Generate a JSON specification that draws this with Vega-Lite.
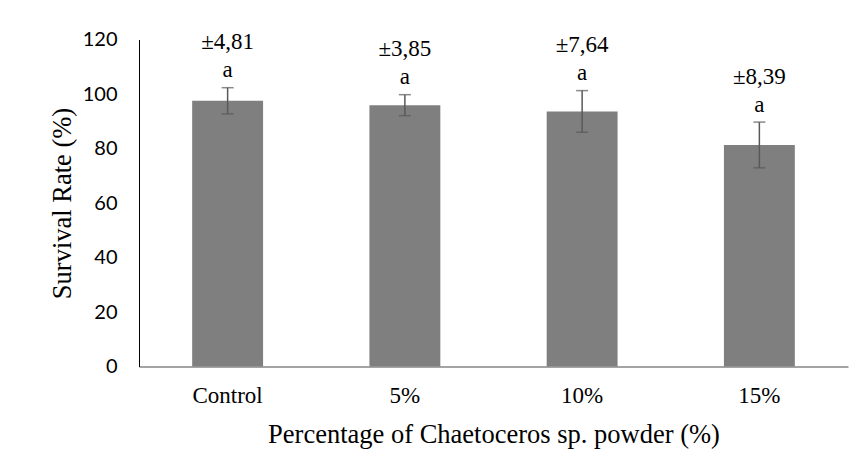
{
  "$schema": "https://vega.github.io/schema/vega-lite/v6.json",
  "width": 709,
  "height": 327,
  "autosize": {"type": "none"},
  "padding": {"left": 139, "top": 39.5, "right": 16, "bottom": 109.5},
  "background": "white",
  "config": {
    "view": {"stroke": null},
    "axis": {"grid": false, "ticks": false, "labelColor": "#000000", "titleColor": "#000000", "titleFontWeight": "normal"}
  },
  "data": {
    "values": [
      {"group": "Control", "mean": 97.5, "sd": 4.81, "lo": 92.69, "hi": 102.31, "sdLabel": "±4,81", "letter": "a"},
      {"group": "5%", "mean": 95.9, "sd": 3.85, "lo": 92.05, "hi": 99.75, "sdLabel": "±3,85", "letter": "a"},
      {"group": "10%", "mean": 93.6, "sd": 7.64, "lo": 85.96, "hi": 101.24, "sdLabel": "±7,64", "letter": "a"},
      {"group": "15%", "mean": 81.3, "sd": 8.39, "lo": 72.91, "hi": 89.69, "sdLabel": "±8,39", "letter": "a"}
    ]
  },
  "encoding": {
    "x": {
      "field": "group",
      "type": "nominal",
      "sort": null,
      "scale": {"paddingInner": 0.6, "paddingOuter": 0.3},
      "axis": {
        "title": "Percentage of Chaetoceros sp. powder (%)",
        "labelAngle": 0,
        "labelFont": "Liberation Serif",
        "labelFontSize": 23,
        "labelPadding": 18,
        "titleFont": "Liberation Serif",
        "titleFontSize": 26.5,
        "titlePadding": 14,
        "domainColor": "#868686",
        "domainWidth": 1.5
      }
    }
  },
  "layer": [
    {
      "mark": {"type": "bar", "color": "#7f7f7f"},
      "encoding": {
        "y": {
          "field": "mean",
          "type": "quantitative",
          "scale": {"domain": [0, 120], "nice": false},
          "axis": {
            "title": "Survival Rate (%)",
            "values": [0, 20, 40, 60, 80, 100, 120],
            "labelFont": "Lato",
            "labelFontSize": 20,
            "labelPadding": 22,
            "titleFont": "Liberation Serif",
            "titleFontSize": 26.5,
            "titlePadding": 6,
            "domainColor": "#000000",
            "domainWidth": 1
          }
        }
      }
    },
    {
      "mark": {"type": "rule", "color": "#595959", "strokeWidth": 1.5},
      "encoding": {
        "y": {"field": "lo", "type": "quantitative"},
        "y2": {"field": "hi"}
      }
    },
    {
      "mark": {"type": "tick", "color": "#595959", "thickness": 1.5, "size": 12},
      "encoding": {"y": {"field": "lo", "type": "quantitative"}}
    },
    {
      "mark": {"type": "tick", "color": "#595959", "thickness": 1.5, "size": 12},
      "encoding": {"y": {"field": "hi", "type": "quantitative"}}
    },
    {
      "mark": {"type": "text", "font": "Liberation Serif", "fontSize": 23, "baseline": "middle", "dy": -17.5, "color": "#000000"},
      "encoding": {
        "y": {"field": "hi", "type": "quantitative"},
        "text": {"field": "letter"}
      }
    },
    {
      "mark": {"type": "text", "font": "Liberation Serif", "fontSize": 23, "baseline": "middle", "dy": -45.5, "color": "#000000"},
      "encoding": {
        "y": {"field": "hi", "type": "quantitative"},
        "text": {"field": "sdLabel"}
      }
    }
  ]
}
